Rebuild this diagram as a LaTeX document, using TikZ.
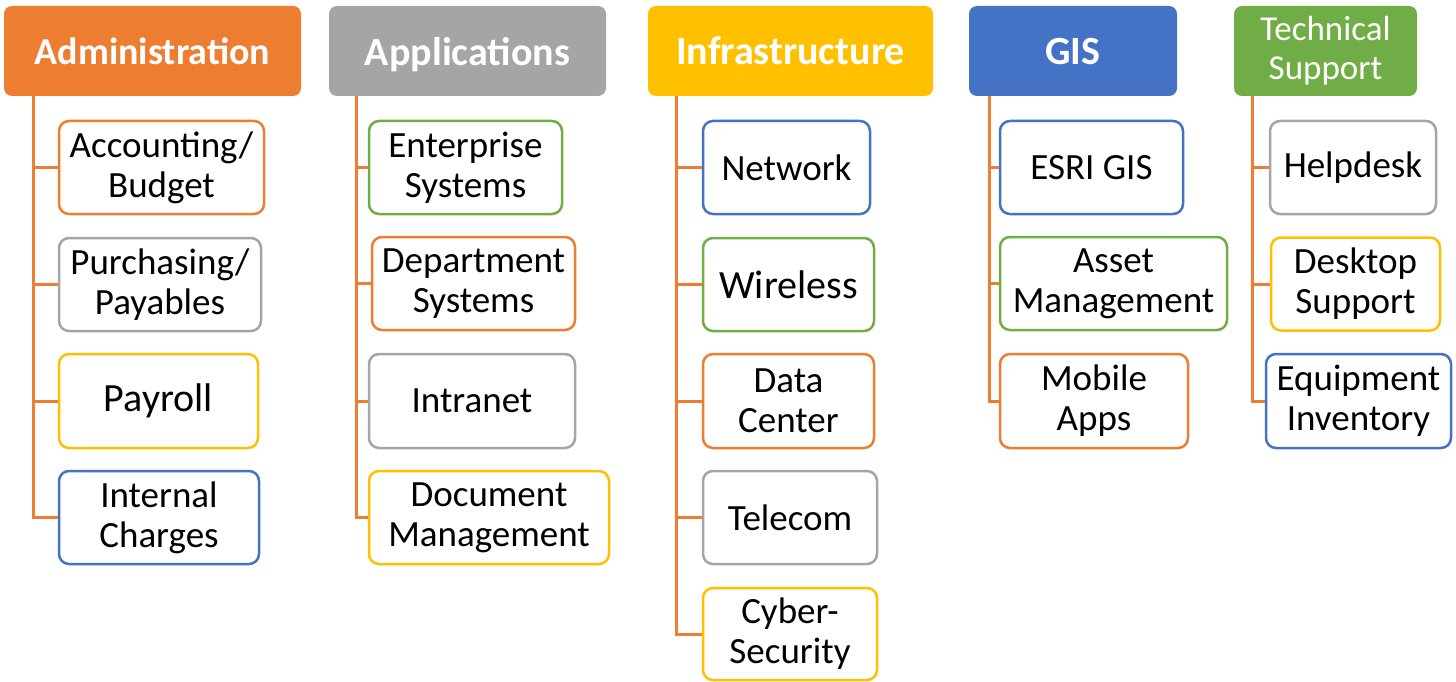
\documentclass[tikz,border=0pt]{standalone}
\usepackage{fontspec}
\setmainfont{Carlito}
\definecolor{cOr}{HTML}{ED7D31}
\definecolor{cGr}{HTML}{A5A5A5}
\definecolor{cGo}{HTML}{FFC000}
\definecolor{cBl}{HTML}{4472C4}
\definecolor{cGn}{HTML}{70AD47}
\begin{document}
\begin{tikzpicture}[x=1pt,y=-1pt,
  hdr/.style={fill=#1, draw=none, rounded corners=8pt, text=white, align=center, inner sep=0pt,
    text depth=0pt, font=\fontsize{40}{44}\selectfont\bfseries},
  hdrthin/.style={fill=#1, draw=none, rounded corners=8pt, text=white, align=center, inner sep=0pt,
    font=\fontsize{35}{39}\selectfont},
  item/.style={draw=#1, line width=2.5pt, fill=white, rounded corners=10pt, align=center, inner sep=0pt,
    font=\fontsize{37}{40}\selectfont},
  big/.style={font=\fontsize{40}{44}\selectfont},
  conn/.style={draw=cOr, line width=3pt},
  sz/.style 2 args={minimum width=#1pt, minimum height=#2pt}
]
\useasboundingbox (0,0) rectangle (1456,682);
% headers
\node[hdr=cOr, sz={297}{90}, font=\fontsize{38}{44}\selectfont\bfseries] (hA) at (152.5,51) {Administration};
\node[hdr=cGr, sz={277}{90}] (hB) at (467.5,51) {Applications};
\node[hdr=cGo, sz={285}{90}] (hC) at (790.5,51) {Infrastructure};
\node[hdr=cBl, sz={208}{90}] (hD) at (1073,51) {GIS};
\node[hdrthin=cGn, sz={183}{90}] (hE) at (1325.5,51) {Technical\\Support};
% trunk coordinates
\coordinate (tA) at (33,96);
\coordinate (tB) at (356,96);
\coordinate (tC) at (676,96);
\coordinate (tD) at (989,96);
\coordinate (tE) at (1252,96);
% Administration
\node[item=cOr, sz={205}{93}] (a1) at (161.5,167.5) {Accounting/\\Budget};
\node[item=cGr, sz={202}{93}] (a2) at (160,284.5) {Purchasing/\\Payables};
\node[item=cGo, sz={199}{94}, big] (a3) at (158.5,401) {Payroll};
\node[item=cBl, sz={200}{93}] (a4) at (159,517.5) {Internal\\Charges};
% Applications
\node[item=cGn, sz={193}{93}] (b1) at (465.5,167.5) {Enterprise\\Systems};
\node[item=cOr, sz={203}{93}] (b2) at (473.5,283.5) {Department\\Systems};
\node[item=cGr, sz={206}{94}] (b3) at (472,401) {Intranet};
\node[item=cGo, sz={240}{93}] (b4) at (489,517.5) {Document\\Management};
% Infrastructure
\node[item=cBl, sz={167}{93}] (c1) at (786.5,167.5) {Network};
\node[item=cGn, sz={171}{93}, big] (c2) at (788.5,284.5) {Wireless};
\node[item=cOr, sz={171}{94}] (c3) at (788.5,401) {Data\\Center};
\node[item=cGr, sz={174}{93}] (c4) at (790,517.5) {Telecom};
\node[item=cGo, sz={174}{92}] (c5) at (790,634) {Cyber-\\Security};
% GIS
\node[item=cBl, sz={183}{93}] (d1) at (1091.5,167.5) {ESRI GIS};
\node[item=cGn, sz={227}{93}] (d2) at (1113.5,283.5) {Asset\\Management};
\node[item=cOr, sz={188}{94}] (d3) at (1094,401) {Mobile\\Apps};
% Technical Support
\node[item=cGr, sz={166}{93}] (e1) at (1353,167.5) {Helpdesk};
\node[item=cGo, sz={169}{93}] (e2) at (1355.5,284) {Desktop\\Support};
\node[item=cBl, sz={185}{94}] (e3) at (1358.5,401) {Equipment\\Inventory};
% connectors
\draw[conn] (tA) |- (a4.west);
\foreach \n in {a1,a2,a3} \draw[conn] (tA |- \n.west) -- (\n.west);
\draw[conn] (tB) |- (b4.west);
\foreach \n in {b1,b2,b3} \draw[conn] (tB |- \n.west) -- (\n.west);
\draw[conn] (tC) |- (c5.west);
\foreach \n in {c1,c2,c3,c4} \draw[conn] (tC |- \n.west) -- (\n.west);
\draw[conn] (tD) |- (d3.west);
\foreach \n in {d1,d2} \draw[conn] (tD |- \n.west) -- (\n.west);
\draw[conn] (tE) |- (e3.west);
\foreach \n in {e1,e2} \draw[conn] (tE |- \n.west) -- (\n.west);
\end{tikzpicture}
\end{document}
